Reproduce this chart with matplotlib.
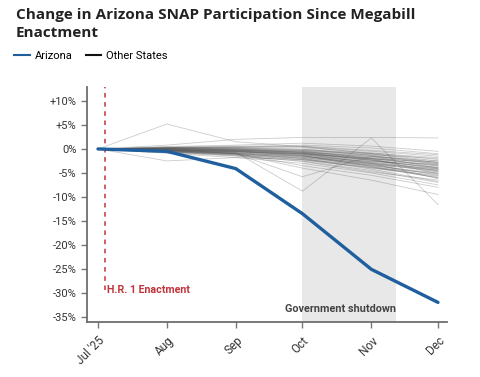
import datetime as dt

import matplotlib.pyplot as plt
from matplotlib.lines import Line2D

plt.rcParams["font.family"] = ["Roboto", "DejaVu Sans"]

# Monthly dates (first of month)
months = [dt.date(2025, m, 1) for m in range(7, 13)]
month_labels = ["Jul '25", "Aug", "Sep", "Oct", "Nov", "Dec"]

# Arizona % change since enactment
arizona = [0.0, -0.5, -4.1, -13.5, -25.1, -32.0]

# Other states, one list per month (same state order in each list)
other_jul = [0.0] * 49
other_aug = [0.3, 0.1, -0.2, -0.4, 0.5, -0.1, 0.2, -0.6, 5.2, -2.5,
             0.8, -0.3, -0.2, 0.0, -0.5, 0.3, -0.3, -0.8, 0.1, -0.2,
             0.2, -0.4, -0.1, -0.7, 0.0, -0.3, 0.1, -0.5, -0.2, 0.4,
             -0.6, -0.1, 0.2, -0.4, -0.9, 0.0, -0.3, 0.3, -0.2, -0.5,
             0.1, -0.1, -0.6, 0.2, -0.3, -0.4, 0.0, -0.2, 0.1]
other_sep = [0.5, -0.2, -0.5, -0.9, 0.8, -0.3, 0.0, -1.2, 1.5, -1.8,
             2.0, -0.7, -1.0, -0.4, -1.0, 0.2, -0.6, -1.5, -0.1, -0.4,
             0.4, -0.8, -0.6, -1.3, -0.2, -0.9, 0.3, -1.1, -0.5, 0.6,
             -1.4, -0.3, 0.1, -1.0, -1.8, -0.1, -0.7, 0.1, -0.8, -1.2,
             -0.2, -0.4, -1.0, 0.3, -0.6, -0.9, -0.3, -0.5, 0.0]
other_oct = [0.8, -0.8, -1.2, -1.5, 1.2, -0.6, -0.4, -2.0, 0.5, -2.2,
             2.4, -8.8, -5.8, -1.0, -1.8, -0.2, -1.1, -2.5, -0.5, -0.9,
             0.3, -1.6, -1.3, -2.2, -0.7, -3.5, 0.0, -1.9, -1.0, 0.5,
             -2.6, -0.8, -0.3, -1.7, -3.0, -0.4, -1.4, -0.1, -1.5, -2.3,
             -0.6, -1.2, -4.0, 0.6, -1.0, -2.0, -0.9, -1.4, -0.7]
other_nov = [0.2, -2.0, -2.8, -3.2, 0.6, -1.5, -1.8, -3.8, -1.0, -3.5,
             2.4, 2.3, -1.5, -2.2, -3.0, -1.2, -2.5, -4.5, -2.0, -3.0,
             -0.8, -2.6, -3.6, -4.0, -1.6, -5.5, -1.4, -3.3, -2.0, -0.5,
             -4.8, -2.4, -1.0, -3.4, -5.0, -1.3, -2.9, -0.9, -3.1, -3.9,
             -1.9, -2.7, -6.5, -0.3, -2.3, -4.2, -2.1, -3.7, -2.3]
other_dec = [-1.0, -3.5, -4.5, -5.5, -0.5, -2.8, -3.0, -6.0, -2.5, -5.0,
             2.3, -11.6, -4.0, -4.2, -4.8, -2.0, -3.8, -7.0, -5.2, -6.2,
             -2.2, -3.2, -5.8, -5.6, -2.5, -8.0, -3.3, -4.4, -3.6, -1.5,
             -6.5, -4.0, -2.9, -5.3, -7.5, -3.1, -4.7, -1.8, -4.1, -5.1,
             -3.4, -4.3, -9.5, -1.2, -3.9, -6.8, -2.7, -6.0, -4.6]

yticks = [10, 5, 0, -5, -10, -15, -20, -25, -30, -35]

enactment = dt.date(2025, 7, 4)
shutdown_start = dt.date(2025, 10, 1)
shutdown_end = dt.date(2025, 11, 12)

AZ_BLUE = "#1f5f9e"
RED = "#c0353b"


def fmt_pct(v):
    if v > 0:
        return "+%d%%" % v
    return "%d%%" % v


fig = plt.figure(figsize=(4.8, 3.77), dpi=100)
ax = fig.add_axes([0.181, 0.147, 0.75, 0.622])

# Shutdown shading
ax.axvspan(shutdown_start, shutdown_end, color="#e8e8e8", zorder=0, lw=0)
ax.text(shutdown_end, -33.3, "Government shutdown", ha="right", va="center",
        fontsize=7.8, fontweight="bold", color="#444444")

# Other states
monthly = [other_jul, other_aug, other_sep, other_oct, other_nov, other_dec]
for i in range(len(other_aug)):
    ax.plot(months, [m[i] for m in monthly], color="#555555", lw=0.6,
            alpha=0.3, zorder=2)

# Arizona
ax.plot(months, arizona, color=AZ_BLUE, lw=2.4, zorder=4,
        solid_capstyle="round")

# Enactment marker
ax.vlines(enactment, -29.5, 12.9, colors=RED, linestyles=(0, (3, 3)),
          lw=1.1, zorder=3)
ax.text(enactment + dt.timedelta(days=1), -29.5, "H.R. 1 Enactment",
        ha="left", va="center", fontsize=7.7, fontweight="bold", color=RED)

ax.set_xlim(dt.date(2025, 6, 26), dt.date(2025, 12, 5))
ax.set_ylim(-36, 12.9)
ax.set_xticks(months)
ax.set_xticklabels(month_labels, rotation=45, ha="right",
                   rotation_mode="anchor", fontsize=8.5)
ax.set_yticks(yticks)
ax.set_yticklabels([fmt_pct(v) for v in yticks], fontsize=8)
ax.tick_params(colors="#333333", length=4, width=1, color="#777777")
ax.tick_params(axis="x", pad=5)

for side in ["top", "right"]:
    ax.spines[side].set_visible(False)
for side in ["left", "bottom"]:
    ax.spines[side].set_color("#6e6e6e")
    ax.spines[side].set_linewidth(1.3)

fig.text(0.033, 0.978, "Change in Arizona SNAP Participation Since Megabill\nEnactment",
         ha="left", va="top", fontsize=11, fontweight="bold", color="#222222",
         linespacing=1.3, family=["Open Sans", "DejaVu Sans"])

handles = [Line2D([], [], color=AZ_BLUE, lw=1.5),
           Line2D([], [], color="#111111", lw=1.5)]
fig.legend(handles, ["Arizona", "Other States"], loc="center left",
           bbox_to_anchor=(0.03, 0.851), ncol=2, frameon=False, fontsize=8,
           handlelength=1.4, handletextpad=0.4, columnspacing=1.2,
           borderaxespad=0, borderpad=0)

fig.savefig("out.png", dpi=100)
